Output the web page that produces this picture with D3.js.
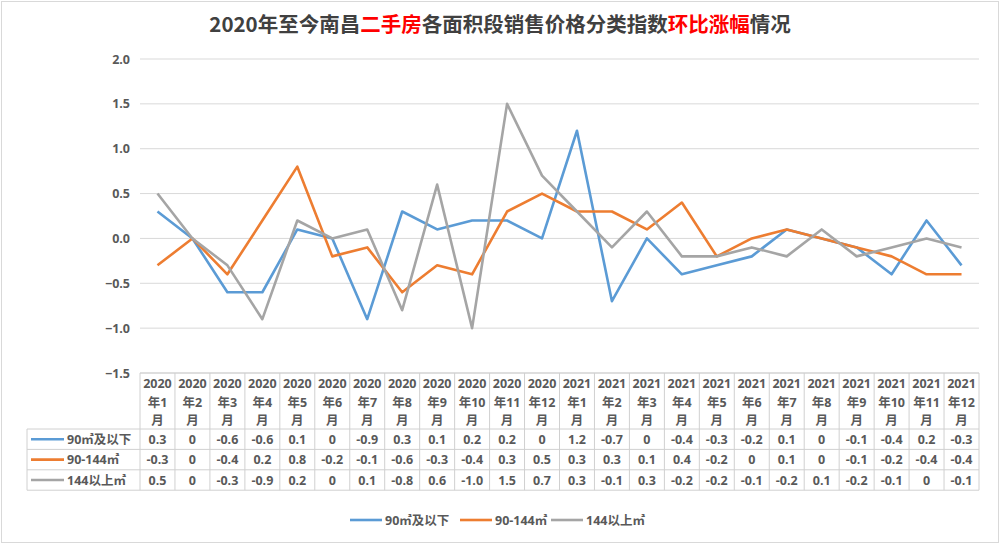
<!DOCTYPE html>
<html><head><meta charset="utf-8">
<script src="https://cdn.jsdelivr.net/npm/d3@7"></script>
<style>
body{margin:0;background:#fff;}
svg{display:block;font-family:"Open Sans","Noto Sans CJK SC",sans-serif;}
</style></head>
<body>
<svg id="c" width="1000" height="544"></svg>
<script>
const months = ["2020年1月","2020年2月","2020年3月","2020年4月","2020年5月","2020年6月","2020年7月","2020年8月","2020年9月","2020年10月","2020年11月","2020年12月",
"2021年1月","2021年2月","2021年3月","2021年4月","2021年5月","2021年6月","2021年7月","2021年8月","2021年9月","2021年10月","2021年11月","2021年12月"];
const seriesNames = ["90㎡及以下","90-144㎡","144以上㎡"];
const s90 = [0.3,0,-0.6,-0.6,0.1,0,-0.9,0.3,0.1,0.2,0.2,0,1.2,-0.7,0,-0.4,-0.3,-0.2,0.1,0,-0.1,-0.4,0.2,-0.3];
const s90_144 = [-0.3,0,-0.4,0.2,0.8,-0.2,-0.1,-0.6,-0.3,-0.4,0.3,0.5,0.3,0.3,0.1,0.4,-0.2,0,0.1,0,-0.1,-0.2,-0.4,-0.4];
const s144 = [0.5,0,-0.3,-0.9,0.2,0,0.1,-0.8,0.6,-1.0,1.5,0.7,0.3,-0.1,0.3,-0.2,-0.2,-0.1,-0.2,0.1,-0.2,-0.1,0,-0.1];
const tableLabels = [["0.3","0","-0.6","-0.6","0.1","0","-0.9","0.3","0.1","0.2","0.2","0","1.2","-0.7","0","-0.4","-0.3","-0.2","0.1","0","-0.1","-0.4","0.2","-0.3"],
["-0.3","0","-0.4","0.2","0.8","-0.2","-0.1","-0.6","-0.3","-0.4","0.3","0.5","0.3","0.3","0.1","0.4","-0.2","0","0.1","0","-0.1","-0.2","-0.4","-0.4"],
["0.5","0","-0.3","-0.9","0.2","0","0.1","-0.8","0.6","-1.0","1.5","0.7","0.3","-0.1","0.3","-0.2","-0.2","-0.1","-0.2","0.1","-0.2","-0.1","0","-0.1"]];
const yTicks = [-1.5,-1.0,-0.5,0,0.5,1.0,1.5,2.0];
const colors = ["#5b9bd5","#ed7d31","#a5a5a5"];
const allSeries = [s90, s90_144, s144];

const svg = d3.select("#c");
svg.append("rect").attr("x",1.5).attr("y",1.5).attr("width",997).attr("height",541)
  .attr("fill","#fff").attr("stroke","#d9d9d9").attr("stroke-width",1);

const title = svg.append("text").attr("x",500).attr("y",32).attr("text-anchor","middle")
  .attr("font-size",20.5).attr("font-weight","bold").attr("fill","#404040")
  .attr("font-family","'Noto Sans CJK SC',sans-serif");
[["2020年至今南昌","#404040"],["二手房","#ff0000"],["各面积段销售价格分类指数","#404040"],["环比涨幅","#ff0000"],["情况","#404040"]]
  .forEach(([t,c])=>title.append("tspan").attr("fill",c).text(t));

const pLeft = 140, pRight = 979, pTop = 59, pBottom = 373;
const x = d3.scaleBand().domain(months).range([pLeft,pRight]);
const y = d3.scaleLinear().domain([-1.5,2.0]).range([pBottom,pTop]);

svg.append("g").selectAll("line").data(yTicks).join("line")
  .attr("x1",pLeft).attr("x2",pRight).attr("y1",d=>y(d)).attr("y2",d=>y(d))
  .attr("stroke","#d9d9d9").attr("stroke-width",1);

const yAxis = d3.axisLeft(y).tickValues(yTicks).tickFormat(d3.format(".1f")).tickSize(0).tickPadding(10);
const ya = svg.append("g").attr("transform",`translate(${pLeft},0)`).call(yAxis);
ya.select(".domain").remove();
ya.selectAll("text").attr("font-size",12.5).attr("font-weight","bold").attr("fill","#595959")
  .attr("font-family","'Open Sans',sans-serif");

const line = d3.line().x((d,i)=>x(months[i])+x.bandwidth()/2).y(d=>y(d));
allSeries.forEach((s,k)=>{
  svg.append("path").datum(s).attr("d",line).attr("fill","none")
    .attr("stroke",colors[k]).attr("stroke-width",2.6).attr("stroke-linejoin","round");
});

const tabLeft = 27, headBottom = 429, rowH = 20.4;
const tg = svg.append("g").attr("stroke","#d0d0d0").attr("stroke-width",1);
months.forEach((m)=>{
  tg.append("line").attr("x1",x(m)).attr("x2",x(m)).attr("y1",pBottom).attr("y2",headBottom+3*rowH);
});
tg.append("line").attr("x1",pRight).attr("x2",pRight).attr("y1",pBottom).attr("y2",headBottom+3*rowH);
tg.append("line").attr("x1",tabLeft).attr("x2",tabLeft).attr("y1",headBottom).attr("y2",headBottom+3*rowH);
tg.append("line").attr("x1",pLeft).attr("x2",pRight).attr("y1",pBottom).attr("y2",pBottom);
for(let r=0;r<=3;r++){
  tg.append("line").attr("x1",tabLeft).attr("x2",pRight).attr("y1",headBottom+r*rowH).attr("y2",headBottom+r*rowH);
}
const hg = svg.append("g").attr("font-size",12.5).attr("font-weight","bold").attr("fill","#595959")
  .attr("text-anchor","middle");
months.forEach(m=>{
  const cx = x(m)+x.bandwidth()/2;
  const yr = m.slice(0,4), rest = m.slice(4, m.length-1);
  const t = hg.append("text").attr("x",cx);
  t.append("tspan").attr("x",cx).attr("y",388).text(yr);
  t.append("tspan").attr("x",cx).attr("y",407).text(rest);
  t.append("tspan").attr("x",cx).attr("y",425).text("月");
});
tableLabels.forEach((row,r)=>{
  const cy = headBottom + r*rowH + rowH/2 + 4.5;
  row.forEach((v,i)=>{
    hg.append("text").attr("x",x(months[i])+x.bandwidth()/2).attr("y",cy).text(v);
  });
  svg.append("line").attr("x1",31).attr("x2",64).attr("y1",cy-4.5).attr("y2",cy-4.5)
    .attr("stroke",colors[r]).attr("stroke-width",2.6);
  svg.append("text").attr("x",67).attr("y",cy).attr("font-size",12.5).attr("font-weight","bold")
    .attr("fill","#595959").text(seriesNames[r]);
});

const lg = svg.append("g");
const legX = [350, 460, 551];
seriesNames.forEach((n,k)=>{
  lg.append("line").attr("x1",legX[k]).attr("x2",legX[k]+32).attr("y1",520).attr("y2",520)
    .attr("stroke",colors[k]).attr("stroke-width",2.6);
  lg.append("text").attr("x",legX[k]+35).attr("y",524.5).attr("font-size",12.5).attr("font-weight","bold")
    .attr("fill","#595959").text(n);
});
</script>
</body></html>
